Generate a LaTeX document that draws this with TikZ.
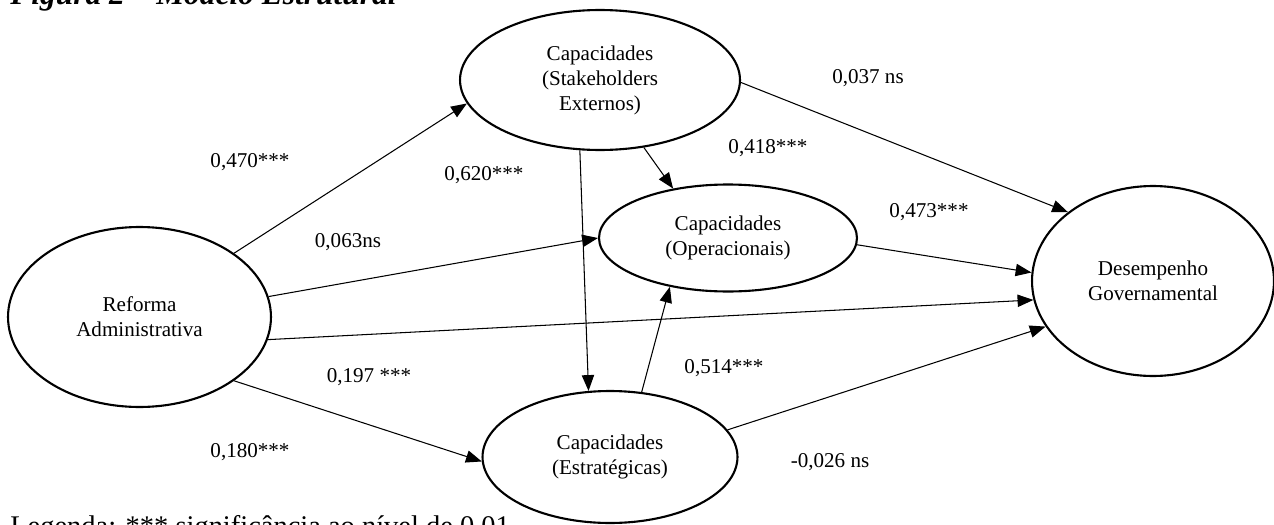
\documentclass[tikz,border=0pt]{standalone}
\usepackage{fontspec}
\setmainfont{Liberation Serif}
\usetikzlibrary{arrows.meta,shapes.geometric}

\begin{document}
\begin{tikzpicture}[x=0.02cm, y=-0.02cm, font=\fontsize{12}{14.2}\selectfont,
  >={Triangle[length=9pt, width=7pt]},
  lv/.style={ellipse, draw, line width=1.2pt, inner sep=0pt, align=center},
  pa/.style={->, line width=0.6pt},
  w/.style={inner sep=0pt}]
  \useasboundingbox (0,0) rectangle (1274,524);
  \node[anchor=base west, inner sep=0pt, font=\fontsize{17.9}{20}\selectfont\bfseries\itshape] (tit) at (10,5) {Figura 2 -- Modelo Estrutural};
  \node[anchor=base west, inner sep=0pt, font=\fontsize{16.2}{19}\selectfont] (leg) at (10,535) {Legenda: *** significância ao nível de 0,01};

  \node[lv, minimum width=5.26cm, minimum height=3.6cm] (ra) at (139.5,317) {Reforma\\Administrativa};
  \node[lv, minimum width=5.6cm, minimum height=2.8cm] (se) at (600,80) {Capacidades\\(Stakeholders\\Externos)};
  \node[lv, minimum width=5.16cm, minimum height=2.14cm] (op) at (728,238) {Capacidades\\(Operacionais)};
  \node[lv, minimum width=5.1cm, minimum height=2.64cm] (es) at (610,457) {Capacidades\\(Estratégicas)};
  \node[lv, minimum width=4.84cm, minimum height=3.8cm] (dg) at (1153,281) {Desempenho\\Governamental};

  \draw[pa] (ra.34.4) -- (se.190);
  \draw[pa] (ra.9.5) -- (op.180);
  \draw[pa] (ra.-10) -- (dg.189.8);
  \draw[pa] (ra.-34.7) -- (es.182.7);
  \draw[pa] (se.-57.3) -- (op.138);
  \draw[pa] (se.-106) -- (es.108.4);
  \draw[pa] (se.-1.2) -- (dg.141.8);
  \draw[pa] (op.-3.5) -- (dg.176.7);
  \draw[pa] (es.64.5) -- (op.220);
  \draw[pa] (es.13) -- (dg.203.8);

  \node[w] (w470) at (250,162) {0,470***};
  \node[w] (w620) at (484,175) {0,620***};
  \node[w] (w063) at (348,242) {0,063ns};
  \node[w] (w197) at (369,377) {0,197 ***};
  \node[w] (w180) at (250,452) {0,180***};
  \node[w] (w418) at (768,148) {0,418***};
  \node[w] (w037) at (868,78) {0,037 ns};
  \node[w] (w473) at (929,212) {0,473***};
  \node[w] (w514) at (724,368) {0,514***};
  \node[w] (w026) at (830,462) {-0,026 ns};
\end{tikzpicture}
\end{document}
